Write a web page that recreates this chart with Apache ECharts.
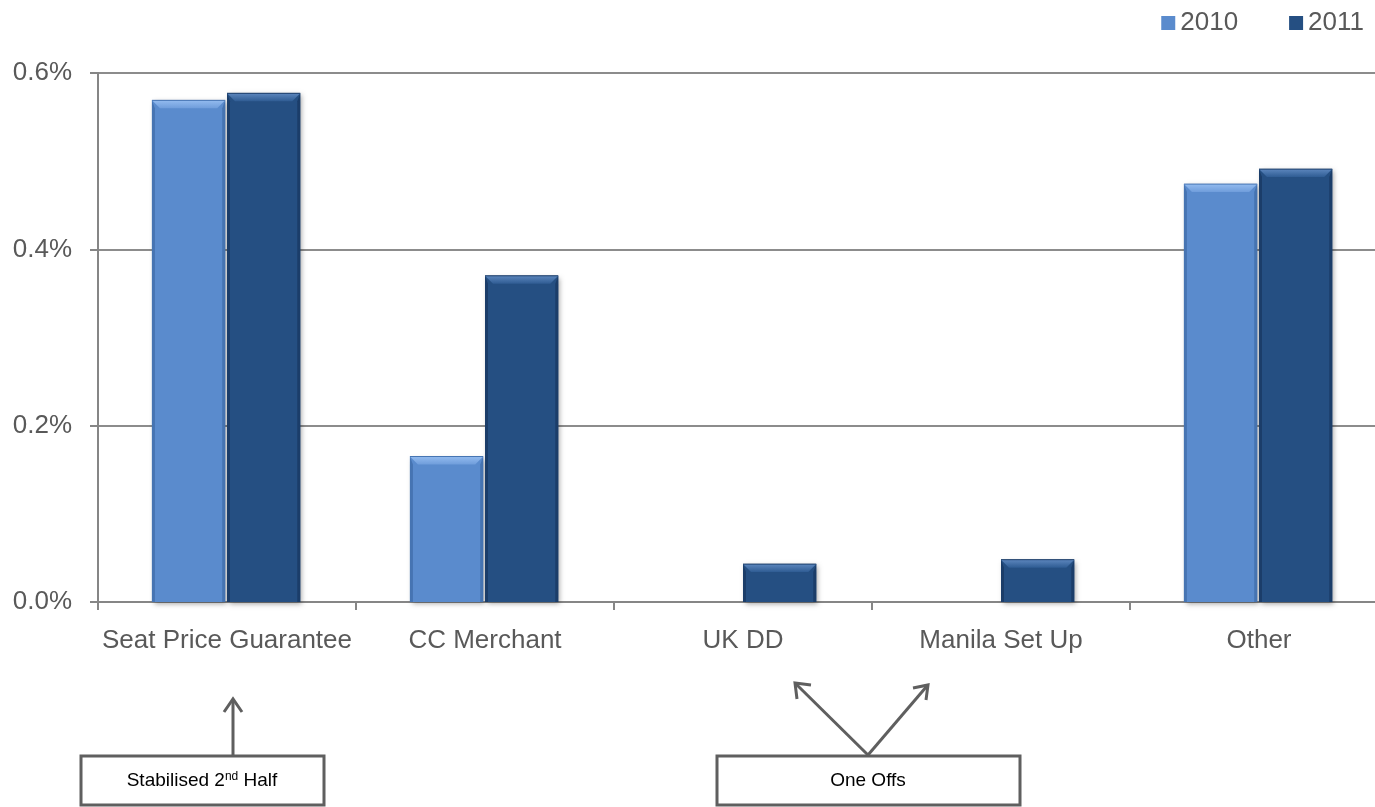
<!DOCTYPE html>
<html>
<head>
<meta charset="utf-8">
<style>
  html, body { margin: 0; padding: 0; background: #ffffff; overflow: hidden; }
  #wrap { width: 1375px; height: 807px; overflow: hidden; }
  #chart { width: 1388px; height: 807px; }
</style>
<script src="https://cdn.jsdelivr.net/npm/echarts@6/dist/echarts.min.js"></script>
</head>
<body>
<div id="wrap"><div id="chart"></div></div>
<script>
// Cost items, share of revenue (%)
const categories = ['Seat Price Guarantee', 'CC Merchant', 'UK DD', 'Manila Set Up', 'Other'];
const values2010 = [0.569, 0.165, null, null, 0.474];
const values2011 = [0.577, 0.370, 0.043, 0.048, 0.491];
const yTicks = [0, 0.2, 0.4, 0.6];
const seriesNames = ['2010', '2011'];

const textColor = '#595959';
const font = 'Liberation Sans, Arial, sans-serif';

// Bevelled column look: flat face, lighter top chamfer, darker side edges
const palettes = [
  { base: '#5a8bcd', edge: '#4674b2', top: '#93bbef', topEnd: '#6f9ddb' },
  { base: '#254f82', edge: '#1b3d69', top: '#5c86bd', topEnd: '#2f5c93' }
];
const barRatio = 0.284;            // bar width relative to category band
const barOffsets = [-0.291, 0.0];  // left edge of each bar relative to band centre

function bevelBar(seriesIdx) {
  const pal = palettes[seriesIdx];
  return function (params, api) {
    const v = api.value(1);
    if (v == null || isNaN(v)) return null;
    const band = api.size([1, 0])[0];
    const w = band * barRatio;
    const top = api.coord([api.value(0), v]);
    const base = api.coord([api.value(0), 0]);
    const x0 = top[0] + band * barOffsets[seriesIdx];
    const yt = top[1];
    const yb = base[1];
    const h = yb - yt;
    const b = Math.min(8, h / 2);
    const s = 3;
    return {
      type: 'group',
      children: [
        { type: 'rect', shape: { x: x0, y: yt, width: w, height: h },
          style: { fill: pal.base, shadowColor: 'rgba(0,0,0,0.35)', shadowBlur: 5,
                   shadowOffsetX: 2, shadowOffsetY: 2 } },
        { type: 'polygon', shape: { points: [[x0, yt], [x0 + s, yt + b], [x0 + s, yb], [x0, yb]] },
          style: { fill: pal.edge } },
        { type: 'polygon', shape: { points: [[x0 + w, yt], [x0 + w - s, yt + b], [x0 + w - s, yb], [x0 + w, yb]] },
          style: { fill: pal.edge } },
        { type: 'polygon', shape: { points: [[x0, yt], [x0 + w, yt], [x0 + w - b, yt + b], [x0 + b, yt + b]] },
          style: { fill: new echarts.graphic.LinearGradient(0, 0, 0, 1, [
            { offset: 0, color: pal.top }, { offset: 1, color: pal.topEnd }]) } },
        { type: 'line', shape: { x1: x0, y1: yt, x2: x0 + w, y2: yt },
          style: { stroke: pal.edge, lineWidth: 1 } }
      ]
    };
  };
}

function barSeries(idx, data) {
  return {
    name: seriesNames[idx],
    type: 'custom',
    renderItem: bevelBar(idx),
    data: data.map((v, i) => [i, v]),
    encode: { x: 0, y: 1 },
    itemStyle: { color: palettes[idx].base },
    z: 3
  };
}

const chart = echarts.init(document.getElementById('chart'), null, { renderer: 'canvas' });

chart.setOption({
  animation: false,
  textStyle: { fontFamily: font },
  legend: {
    data: seriesNames,
    right: 19,
    top: 5,
    itemWidth: 14,
    itemHeight: 14,
    itemGap: 51,
    icon: 'rect',
    textStyle: { color: textColor, fontSize: 26, fontFamily: font }
  },
  grid: { left: 98, top: 73, right: 0, bottom: 205, containLabel: false },
  xAxis: {
    type: 'category',
    data: categories,
    axisLine: { lineStyle: { color: '#868686', width: 2 } },
    axisTick: { show: true, length: 8, lineStyle: { color: '#868686', width: 2 } },
    axisLabel: { color: textColor, fontSize: 26, fontFamily: font, margin: 26, interval: 0 },
    splitLine: { show: false }
  },
  yAxis: {
    type: 'value',
    min: yTicks[0],
    max: yTicks[yTicks.length - 1],
    interval: 0.2,
    axisLine: { show: true, lineStyle: { color: '#868686', width: 2 } },
    axisTick: { show: true, length: 8, lineStyle: { color: '#868686', width: 2 } },
    axisLabel: {
      color: textColor, fontSize: 26, fontFamily: font, margin: 26,
      formatter: v => v.toFixed(1) + '%'
    },
    splitLine: { lineStyle: { color: '#8c8c8c', width: 2 } }
  },
  series: [
    barSeries(0, values2010),
    barSeries(1, values2011)
  ],
  graphic: [
    // callout: Stabilised 2nd Half
    { type: 'rect', shape: { x: 81, y: 756, width: 243, height: 49 },
      style: { fill: '#ffffff', stroke: '#5f5f5f', lineWidth: 3 } },
    { type: 'text', x: 202, y: 781,
      style: {
        text: '{t|Stabilised 2}{s|nd}{t| Half}',
        align: 'center', verticalAlign: 'middle',
        rich: {
          t: { fontSize: 19, fill: '#000000', fontFamily: font },
          s: { fontSize: 12, fill: '#000000', fontFamily: font, verticalAlign: 'top', padding: [0, 0, 8, 0] }
        }
      } },
    { type: 'line', shape: { x1: 233, y1: 755, x2: 233, y2: 700 },
      style: { stroke: '#5f5f5f', lineWidth: 3 } },
    { type: 'polyline', shape: { points: [[224, 712], [233, 699], [242, 712]] },
      style: { stroke: '#5f5f5f', lineWidth: 3, fill: null } },
    // callout: One Offs
    { type: 'rect', shape: { x: 717, y: 756, width: 303, height: 49 },
      style: { fill: '#ffffff', stroke: '#5f5f5f', lineWidth: 3 } },
    { type: 'text', x: 868, y: 781,
      style: { text: 'One Offs', align: 'center', verticalAlign: 'middle',
        fontSize: 19, fill: '#000000', fontFamily: font } },
    { type: 'line', shape: { x1: 868, y1: 755, x2: 796, y2: 684 },
      style: { stroke: '#5f5f5f', lineWidth: 3 } },
    { type: 'polyline', shape: { points: [[797, 699], [795, 683], [811, 685]] },
      style: { stroke: '#5f5f5f', lineWidth: 3, fill: null } },
    { type: 'line', shape: { x1: 868, y1: 755, x2: 927, y2: 686 },
      style: { stroke: '#5f5f5f', lineWidth: 3 } },
    { type: 'polyline', shape: { points: [[913, 688], [928, 685], [926, 700]] },
      style: { stroke: '#5f5f5f', lineWidth: 3, fill: null } }
  ]
});
</script>
</body>
</html>
